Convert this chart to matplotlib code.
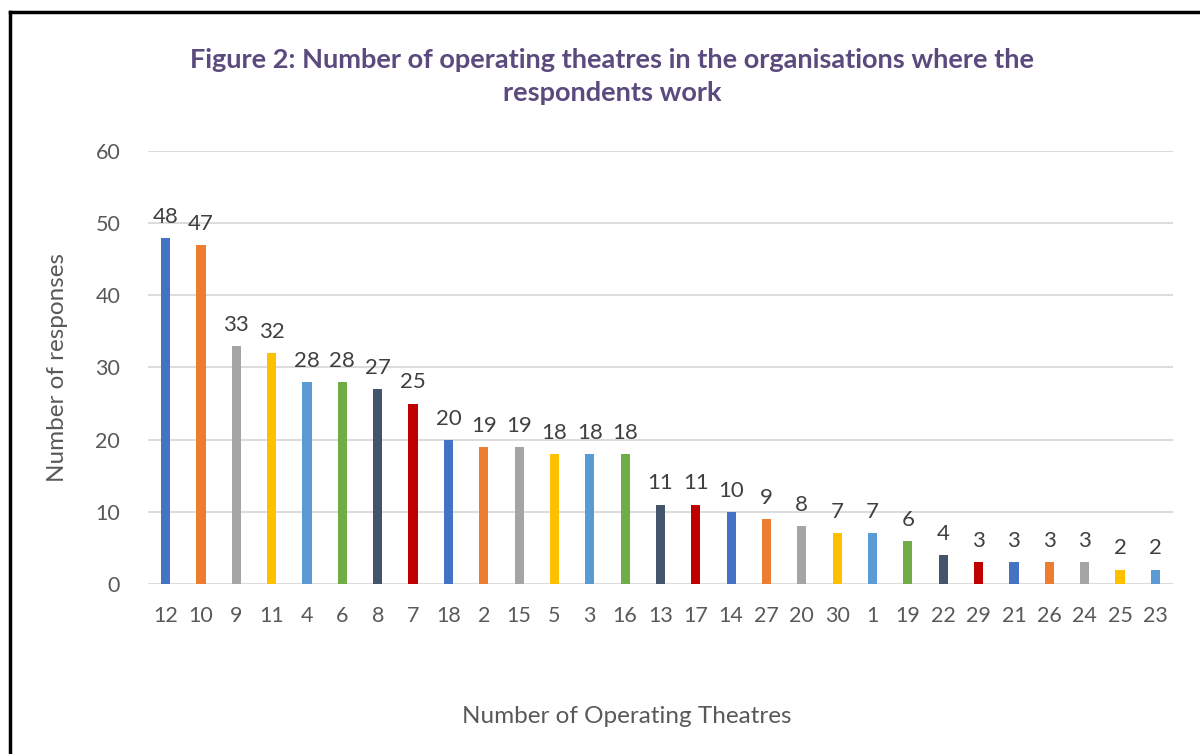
import matplotlib.pyplot as plt
from matplotlib.lines import Line2D

theatres = ["12", "10", "9", "11", "4", "6", "8", "7", "18", "2", "15", "5", "3", "16",
            "13", "17", "14", "27", "20", "30", "1", "19", "22", "29", "21", "26", "24", "25", "23"]
responses = [48, 47, 33, 32, 28, 28, 27, 25, 20, 19, 19, 18, 18, 18,
             11, 11, 10, 9, 8, 7, 7, 6, 4, 3, 3, 3, 3, 2, 2]
palette = ["#4472C4", "#ED7D31", "#A5A5A5", "#FFC000", "#5B9BD5", "#70AD47", "#44546A", "#C00000"]
colors = [palette[i % len(palette)] for i in range(len(responses))]

plt.rcParams["font.family"] = ["Lato", "DejaVu Sans"]

fig = plt.figure(figsize=(12, 7.54), dpi=100)
ax = fig.add_axes([0.1233, 0.2255, 0.8542, 0.5742])

x = range(len(responses))
bars = ax.bar(x, responses, width=0.26, color=colors, zorder=3)
for xi, v in zip(x, responses):
    ax.annotate(str(v), (xi, v), xytext=(0, 8), textcoords="offset points",
                ha="center", va="bottom", fontsize=16, color="#404040")

ax.set_xlim(-0.5, len(responses) - 0.5)
ax.set_ylim(0, 60)
ax.set_yticks(range(0, 61, 10))
ax.set_xticks(list(x))
ax.set_xticklabels(theatres)
ax.tick_params(axis="both", length=0, labelsize=15.5, labelcolor="#595959")
ax.tick_params(axis="x", pad=16)
ax.tick_params(axis="y", pad=20)
ax.grid(axis="y", color="#D9D9D9", linewidth=1.3, zorder=0)
for s in ax.spines.values():
    s.set_visible(False)

ax.set_ylabel("Number of responses", fontsize=17.5, color="#595959", labelpad=20)
fig.text(0.5225, 0.05, "Number of Operating Theatres", ha="center", va="center",
         fontsize=17.5, color="#595959")
fig.text(0.51, 0.8985, "Figure 2: Number of operating theatres in the organisations where the\nrespondents work",
         ha="center", va="center", fontsize=19.5, fontweight="bold", color="#5B4A7E",
         linespacing=1.45)

# frame lines at top and left edge
fig.add_artist(Line2D([0.0085, 0.0085], [0, 0.984], color="black", linewidth=2.5, transform=fig.transFigure))
fig.add_artist(Line2D([0.0085, 1], [0.984, 0.984], color="black", linewidth=2.5, transform=fig.transFigure))

fig.savefig("out.png", dpi=100)
